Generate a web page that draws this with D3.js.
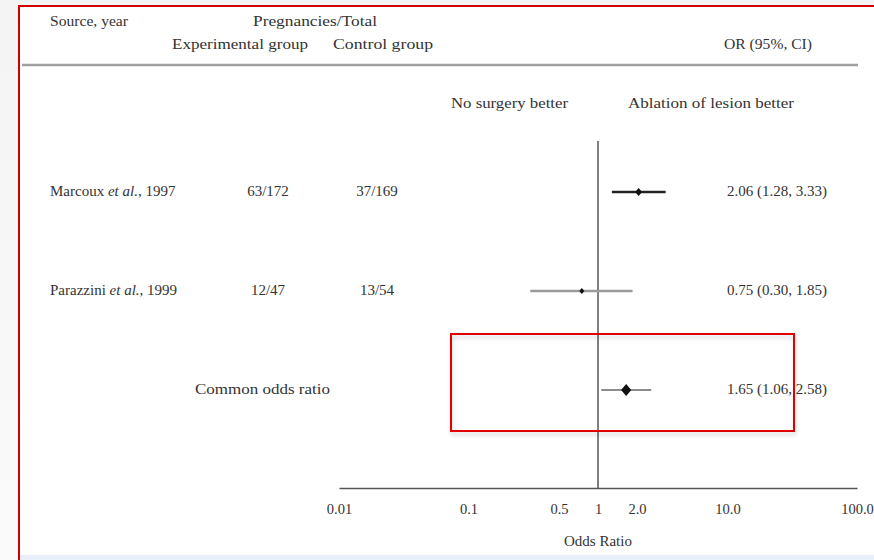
<!DOCTYPE html>
<html>
<head>
<meta charset="utf-8">
<script src="https://cdn.jsdelivr.net/npm/d3@7"></script>
<style>
	body { margin: 0; background: #fff; }
	svg text { font-family: "Liberation Serif", "DejaVu Serif", serif; fill: #333; }
</style>
</head>
<body>
<div id="forest"></div>
<script>
// values
var studies = ["Marcoux", "Parazzini", "Common"];
var authors = ["Marcoux ", "Parazzini ", "Common odds ratio"];
var years = [", 1997", ", 1999", ""];
var expGroup = ["63/172", "12/47", ""];
var ctrlGroup = ["37/169", "13/54", ""];
var oddsRatio = [2.06, 0.75, 1.65];
var ciLow = [1.28, 0.30, 1.06];
var ciHigh = [3.33, 1.85, 2.58];
var orLabels = ["2.06 (1.28, 3.33)", "0.75 (0.30, 1.85)", "1.65 (1.06, 2.58)"];
var tickValues = [0.01, 0.1, 0.5, 1, 2, 10, 100];
var tickLabels = ["0.01", "0.1", "0.5", "1", "2.0", "10.0", "100.0"];

var width = 874,
	height = 560;

var svg = d3.select("#forest")
	.append("svg")
	.attr("width", width)
	.attr("height", height);

// soft grey page surround + pale blue strip at the bottom
var defs = svg.append("defs");
var grad = defs.append("linearGradient").attr("id", "bg").attr("x1", 0).attr("x2", 0).attr("y1", 0).attr("y2", 1);
grad.append("stop").attr("offset", "0%").attr("stop-color", "#f4f4f4");
grad.append("stop").attr("offset", "100%").attr("stop-color", "#fafafa");
var shadow = defs.append("filter").attr("id", "shadow").attr("x", "-10%").attr("y", "-10%").attr("width", "120%").attr("height", "130%");
shadow.append("feDropShadow").attr("dx", 1).attr("dy", 3).attr("stdDeviation", 2).attr("flood-color", "#000").attr("flood-opacity", 0.18);

svg.append("rect").attr("width", width).attr("height", height).attr("fill", "url(#bg)");
svg.append("rect").attr("x", 19).attr("y", 6).attr("width", width).attr("height", height).attr("fill", "#fff");
svg.append("rect").attr("x", 20).attr("y", 555).attr("width", width).attr("height", 5).attr("fill", "#e9eff8");
svg.append("path")
	.attr("d", "M19," + height + "V6H" + width)
	.attr("fill", "none")
	.attr("stroke", "#d00000")
	.attr("stroke-width", 2);

// scales
var x = d3.scaleLog()
	.domain([0.01, 100])
	.range([339, 857]);

var y = d3.scalePoint()
	.domain(studies)
	.range([192, 390]);

// header (w = rendered width in the figure)
var header = [
	{t: "Source, year", x: 50, y: 26, w: 78},
	{t: "Pregnancies/Total", x: 253, y: 26, w: 124},
	{t: "Experimental group", x: 172, y: 49, w: 136},
	{t: "Control group", x: 333, y: 49, w: 100},
	{t: "OR (95%, CI)", x: 724, y: 49, w: 88},
	{t: "No surgery better", x: 451, y: 108, w: 117},
	{t: "Ablation of lesion better", x: 628, y: 108, w: 166}
];
svg.selectAll(".head")
	.data(header)
	.enter()
	.append("text")
	.attr("class", "head")
	.attr("x", function (d) { return d.x; })
	.attr("y", function (d) { return d.y; })
	.attr("textLength", function (d) { return d.w; })
	.attr("lengthAdjust", "spacingAndGlyphs")
	.style("font-size", "15.5px")
	.text(function (d) { return d.t; });

svg.append("line")
	.attr("x1", 22).attr("x2", 858)
	.attr("y1", 65).attr("y2", 65)
	.attr("stroke", "#a0a0a0")
	.attr("stroke-width", 2.5);

// study labels
var label = svg.selectAll(".study")
	.data(studies)
	.enter()
	.append("text")
	.attr("class", "study")
	.attr("x", function (d, i) { return i === 2 ? 195 : 50; })
	.attr("y", function (d) { return y(d) + 4; })
	.style("font-size", "15px");
label.append("tspan").text(function (d, i) { return authors[i]; });
label.append("tspan").style("font-style", "italic").text(function (d, i) { return i === 2 ? "" : "et al."; });
label.append("tspan").text(function (d, i) { return years[i]; });
label.filter(function (d, i) { return i === 2; })
	.attr("textLength", 135)
	.attr("lengthAdjust", "spacingAndGlyphs");

svg.selectAll(".exp")
	.data(studies)
	.enter()
	.append("text")
	.attr("x", 268)
	.attr("y", function (d) { return y(d) + 4; })
	.attr("text-anchor", "middle")
	.style("font-size", "15px")
	.text(function (d, i) { return expGroup[i]; });

svg.selectAll(".ctrl")
	.data(studies)
	.enter()
	.append("text")
	.attr("x", 377)
	.attr("y", function (d) { return y(d) + 4; })
	.attr("text-anchor", "middle")
	.style("font-size", "15px")
	.text(function (d, i) { return ctrlGroup[i]; });

svg.selectAll(".or")
	.data(studies)
	.enter()
	.append("text")
	.attr("x", 727)
	.attr("y", function (d) { return y(d) + 4; })
	.style("font-size", "15px")
	.text(function (d, i) { return orLabels[i]; });

// reference line at OR = 1
svg.append("line")
	.attr("x1", x(1)).attr("x2", x(1))
	.attr("y1", 141).attr("y2", 488)
	.attr("stroke", "#555")
	.attr("stroke-width", 1.5);

// axis
var axis = svg.append("g")
	.attr("transform", "translate(0,488)")
	.call(d3.axisBottom(x)
		.tickValues(tickValues)
		.tickFormat(function (d, i) { return tickLabels[i]; })
		.tickSize(0)
		.tickPadding(16));
axis.select(".domain").attr("stroke", "#555").attr("stroke-width", 1.5);
axis.selectAll("text")
	.style("font-family", "'Liberation Serif', serif")
	.style("font-size", "14.5px")
	.style("fill", "#333");

svg.append("text")
	.attr("x", x(1))
	.attr("y", 546)
	.attr("text-anchor", "middle")
	.style("font-size", "15px")
	.text("Odds Ratio");

// confidence intervals and point estimates
var ciColor = ["#222", "#9a9a9a", "#666"];
var ciWidth = [2.5, 2.5, 1.5];
var markSize = [4, 3, 6];

svg.selectAll(".ci")
	.data(studies)
	.enter()
	.append("line")
	.attr("x1", function (d, i) { return x(ciLow[i]); })
	.attr("x2", function (d, i) { return x(ciHigh[i]); })
	.attr("y1", function (d) { return y(d); })
	.attr("y2", function (d) { return y(d); })
	.attr("stroke", function (d, i) { return ciColor[i]; })
	.attr("stroke-width", function (d, i) { return ciWidth[i]; });

svg.selectAll(".pt")
	.data(studies)
	.enter()
	.append("path")
	.attr("d", function (d, i) {
		var s = markSize[i];
		return "M0," + (-s) + "L" + (s * 0.85) + ",0L0," + s + "L" + (-s * 0.85) + ",0Z";
	})
	.attr("transform", function (d, i) { return "translate(" + x(oddsRatio[i]) + "," + y(d) + ")"; })
	.attr("fill", "#111");

// red highlight box
svg.append("rect")
	.attr("x", 451).attr("y", 334)
	.attr("width", 343).attr("height", 97)
	.attr("fill", "none")
	.attr("stroke", "#e00000")
	.attr("stroke-width", 2)
	.attr("filter", "url(#shadow)");
</script>
</body>
</html>
